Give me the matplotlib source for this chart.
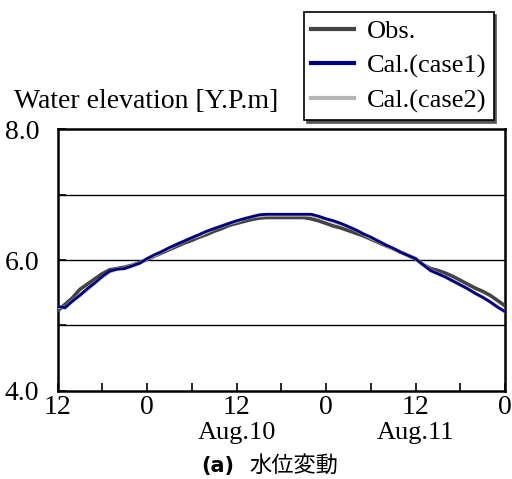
import matplotlib
matplotlib.use("Agg")
import matplotlib.pyplot as plt
import numpy as np

hours = list(range(0, 61))
obs = [5.22, 5.32, 5.42, 5.55, 5.63, 5.71, 5.79, 5.85, 5.87, 5.89,
       5.92, 5.96, 6.01, 6.06, 6.11, 6.16, 6.21, 6.26, 6.30, 6.35,
       6.39, 6.44, 6.48, 6.53, 6.56, 6.59, 6.62, 6.64, 6.65, 6.65,
       6.65, 6.65, 6.65, 6.65, 6.63, 6.60, 6.56, 6.52, 6.49, 6.45,
       6.41, 6.37, 6.32, 6.27, 6.22, 6.17, 6.12, 6.07, 6.02, 5.93,
       5.87, 5.84, 5.80, 5.75, 5.69, 5.63, 5.57, 5.52, 5.46, 5.38, 5.30]
case1 = [5.29, 5.27, 5.37, 5.46, 5.56, 5.65, 5.75, 5.83, 5.86, 5.87,
         5.91, 5.95, 6.02, 6.08, 6.13, 6.19, 6.24, 6.29, 6.34, 6.39,
         6.44, 6.48, 6.52, 6.56, 6.60, 6.63, 6.66, 6.69, 6.70, 6.70,
         6.70, 6.70, 6.70, 6.70, 6.70, 6.67, 6.63, 6.60, 6.56, 6.51,
         6.46, 6.40, 6.35, 6.29, 6.23, 6.18, 6.12, 6.07, 6.02, 5.93,
         5.84, 5.79, 5.74, 5.68, 5.62, 5.56, 5.49, 5.43, 5.36, 5.28, 5.21]
case2 = [5.28, 5.27, 5.37, 5.46, 5.55, 5.65, 5.74, 5.82, 5.86, 5.87,
         5.91, 5.95, 6.02, 6.07, 6.13, 6.18, 6.24, 6.29, 6.34, 6.38,
         6.43, 6.48, 6.52, 6.56, 6.59, 6.63, 6.66, 6.68, 6.69, 6.69,
         6.69, 6.69, 6.69, 6.69, 6.69, 6.66, 6.63, 6.59, 6.55, 6.51,
         6.46, 6.40, 6.34, 6.29, 6.23, 6.17, 6.12, 6.07, 6.02, 5.93,
         5.84, 5.79, 5.74, 5.68, 5.62, 5.56, 5.49, 5.43, 5.36, 5.28, 5.21]

xtick_pos = [0, 12, 24, 36, 48, 60]
xtick_labels = ["12", "0", "12", "0", "12", "0"]
date_pos = [24, 48]
date_labels = ["Aug.10", "Aug.11"]
ytick_pos = [4.0, 6.0, 8.0]
ytick_labels = ["4.0", "6.0", "8.0"]

serif = ["Liberation Serif", "DejaVu Serif"]

fig = plt.figure(figsize=(5.12, 4.79), dpi=100)
ax = fig.add_axes([57.5/512, 1 - 390.7/479, (505-57.5)/512, (390.7-129.3)/479])

for g in [5.0, 6.0, 7.0]:
    ax.axhline(g, color="black", lw=1.0, zorder=1)

l_obs, = ax.plot(hours, obs, color="#444444", lw=2.6, zorder=3)
l_c2, = ax.plot(hours, case2, color="#b4b4b4", lw=2.6, zorder=4)
l_c1, = ax.plot(hours, case1, color="#000080", lw=2.0, zorder=5)

ax.set_xlim(0, 60)
ax.set_ylim(4.0, 8.0)
ax.set_xticks(xtick_pos)
ax.set_xticklabels(xtick_labels, fontfamily=serif, fontsize=20)
ax.set_xticks([6, 18, 30, 42, 54], minor=True)
ax.set_yticks(ytick_pos)
ax.set_yticklabels(ytick_labels, fontfamily=serif, fontsize=20)
ax.set_yticks([5.0, 7.0], minor=True)
ax.tick_params(axis="both", which="both", direction="in", length=6, width=1.2)
ax.tick_params(axis="x", which="both", pad=3)
ax.tick_params(axis="y", which="both", pad=13)
for s in ax.spines.values():
    s.set_linewidth(1.8)

for p, lab in zip(date_pos, date_labels):
    ax.text(p, -0.118, lab, transform=ax.get_xaxis_transform(), ha="center", va="top",
            fontfamily=serif, fontsize=19)

fig.text(14/512, 1 - 101/479, "Water elevation [Y.P.m]", ha="left", va="center",
         fontfamily=serif, fontsize=20)

fig.text(234/512, 1 - 466/479, "(a)", ha="right", va="center",
         fontfamily=["DejaVu Sans"], fontweight="bold", fontsize=15)
fig.text(249/512, 1 - 465/479, "水位変動", ha="left", va="center",
         fontfamily=["Noto Sans CJK JP", "DejaVu Sans"], fontsize=16)

leg = fig.legend([l_obs, l_c1, l_c2], ["Obs.", "Cal.(case1)", "Cal.(case2)"],
                 loc="upper left", bbox_to_anchor=(304/512, 1 - 12/479),
                 prop={"family": serif, "size": 19}, frameon=True, fancybox=False,
                 shadow={"color": "#555555", "alpha": 1.0}, edgecolor="black",
                 handlelength=1.6, handletextpad=0.5, borderpad=0.28, labelspacing=0.42,
                 borderaxespad=0)
leg.get_frame().set_linewidth(1.2)
for h in leg.get_lines():
    h.set_linewidth(3)

fig.savefig("out.png", dpi=100)
